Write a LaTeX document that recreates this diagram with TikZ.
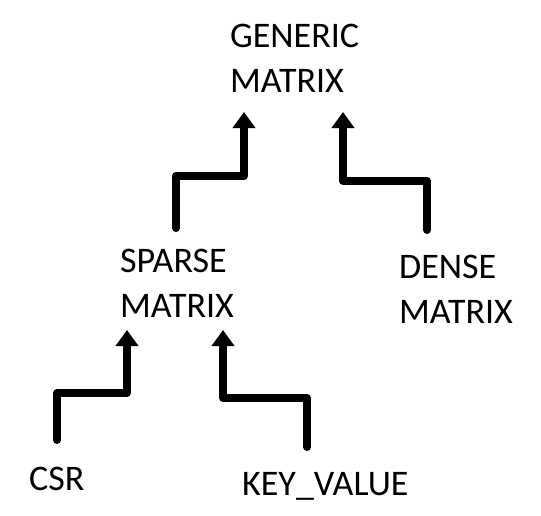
\documentclass[tikz,border=0pt]{standalone}
\usepackage{fontspec}
\setmainfont{Carlito}
\usetikzlibrary{arrows.meta}
\begin{document}
\begin{tikzpicture}[x=1pt,y=1pt,
  lbl/.style={inner sep=0pt, anchor=base west, align=left, font=\fontsize{36}{45}\selectfont},
  arr/.style={line width=8pt, line cap=round, line join=round, -{Triangle[width=22pt,length=16pt]}}]
\useasboundingbox[fill=white] (0,0) rectangle (541,-515);
\node[lbl] (generic) at (230,-92) {GENERIC\\MATRIX};
\node[lbl] (sparse) at (120,-317) {SPARSE\\MATRIX};
\node[lbl] (dense) at (399,-323) {DENSE\\MATRIX};
\node[lbl] (csr) at (29,-490) {CSR};
\node[lbl] (kv) at (242,-495) {KEY\_VALUE};
\coordinate (s1) at (176,-228);
\coordinate (g1) at (244,-112);
\coordinate (d1) at (427,-230);
\coordinate (g2) at (343,-112);
\coordinate (c1) at (57,-440);
\coordinate (p1) at (127,-330);
\coordinate (k1) at (307,-447);
\coordinate (p2) at (223,-330);
\draw[arr] (s1) |- (g1 |- 0,-176) -- (g1);
\draw[arr] (d1) |- (g2 |- 0,-181) -- (g2);
\draw[arr] (c1) |- (p1 |- 0,-393) -- (p1);
\draw[arr] (k1) |- (p2 |- 0,-398) -- (p2);
\end{tikzpicture}
\end{document}
